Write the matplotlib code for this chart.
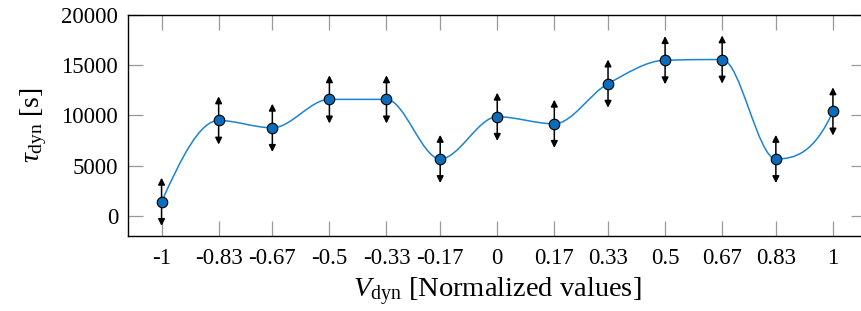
import numpy as np
from matplotlib import pyplot as plt
from matplotlib.path import Path
from matplotlib.patches import PathPatch

plt.rcParams['font.family'] = 'Liberation Serif'
plt.rcParams['mathtext.fontset'] = 'custom'
plt.rcParams['mathtext.rm'] = 'Liberation Serif'
plt.rcParams['mathtext.it'] = 'Liberation Serif:italic'

# data
v_dyn = [-1, -0.83, -0.67, -0.5, -0.33, -0.17, 0, 0.17, 0.33, 0.5, 0.67, 0.83, 1]
tau_dyn = [1400, 9500, 8770, 11600, 11600, 5670, 9870, 9170, 13170, 15500, 15570, 5670, 10400]
tau_err = [2400] * 13
x_labels = ['-1', '-0.83', '-0.67', '-0.5', '-0.33', '-0.17', '0', '0.17', '0.33', '0.5', '0.67', '0.83', '1']

line_col = '#1b84d2'
mark_col = '#0a6cba'


def pchip_slopes(x, y):
    # shape preserving slopes (Fritsch-Carlson), like matlab's pchip
    h = np.diff(x)
    m = np.diff(y) / h
    d = np.zeros(len(x))
    for k in range(1, len(x) - 1):
        if m[k - 1] * m[k] > 0:
            w1 = 2 * h[k] + h[k - 1]
            w2 = h[k] + 2 * h[k - 1]
            d[k] = (w1 + w2) / (w1 / m[k - 1] + w2 / m[k])

    def edge(h0, h1, m0, m1):
        e = ((2 * h0 + h1) * m0 - h0 * m1) / (h0 + h1)
        if np.sign(e) != np.sign(m0):
            e = 0.0
        elif np.sign(m0) != np.sign(m1) and abs(e) > abs(3 * m0):
            e = 3 * m0
        return e

    d[0] = edge(h[0], h[1], m[0], m[1])
    d[-1] = edge(h[-1], h[-2], m[-1], m[-2])
    return d


def smooth_path(x, y):
    x = np.asarray(x, float)
    y = np.asarray(y, float)
    d = pchip_slopes(x, y)
    verts = [(x[0], y[0])]
    codes = [Path.MOVETO]
    for i in range(len(x) - 1):
        h = x[i + 1] - x[i]
        verts += [(x[i] + h / 3, y[i] + d[i] * h / 3),
                  (x[i + 1] - h / 3, y[i + 1] - d[i + 1] * h / 3),
                  (x[i + 1], y[i + 1])]
        codes += [Path.CURVE4] * 3
    return Path(verts, codes)


fig = plt.figure(figsize=(8.61, 3.11), dpi=100)
ax = fig.add_axes([128 / 861, 75 / 311, 738.5 / 861, 221 / 311])

ax.add_patch(PathPatch(smooth_path(v_dyn, tau_dyn), facecolor='none',
                       edgecolor=line_col, lw=1.1, zorder=2))

for x, y, e in zip(v_dyn, tau_dyn, tau_err):
    for tip in (y + e, y - e):
        ax.annotate('', xy=(x, tip), xytext=(x, y),
                    arrowprops=dict(arrowstyle='-|>', color='black', lw=1.1,
                                    mutation_scale=10, shrinkA=0, shrinkB=0),
                    zorder=3)

ax.plot(v_dyn, tau_dyn, 'o', ms=7.6, mfc=mark_col, mec='black', mew=0.8, zorder=4)

ax.set_xlim(-1.1, 1.1)
ax.set_ylim(-2000, 20000)
ax.set_xticks(v_dyn)
ax.set_xticklabels(x_labels)
ax.set_yticks([0, 5000, 10000, 15000, 20000])

ax.tick_params(direction='in', length=11, width=0.9, color='#999999',
               top=True, right=True, labelsize=16.5)
ax.tick_params(axis='x', pad=9)
ax.tick_params(axis='y', pad=7)
for s in ax.spines.values():
    s.set_linewidth(1.0)

ax.set_xlabel(r'$V_{\mathrm{dyn}}$ [Normalized values]', fontsize=20.5, labelpad=4)
ax.set_ylabel(r'$\tau_{\mathrm{dyn}}$ [s]', fontsize=20, labelpad=9)

fig.savefig('out.png', dpi=100)
